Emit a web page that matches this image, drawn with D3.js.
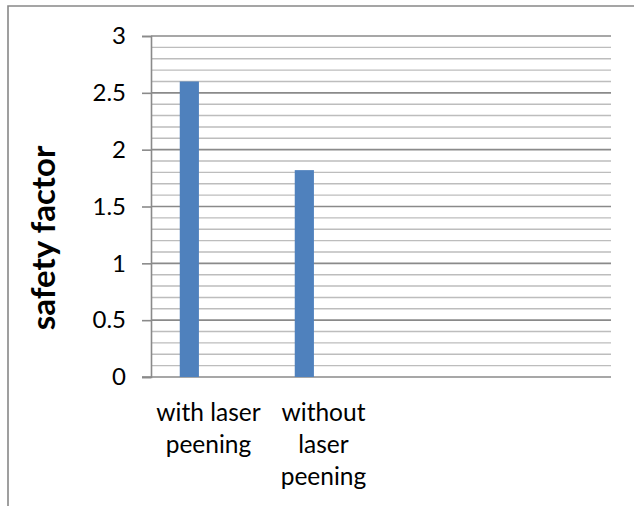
<!DOCTYPE html>
<html><head><meta charset="utf-8">
<script src="https://cdn.jsdelivr.net/npm/d3@7"></script>
<style>body{margin:0;background:#fff;}svg{display:block;}</style>
</head><body>
<svg id="c" width="634" height="506"></svg>
<script>
const categories = [["with laser", "peening"], ["without", "laser", "peening"], [], []];
const seriesSlots = ["Series1", "Series2", "Series3"];
const values = [2.6, 1.82];
const yMajorTicks = [0, 0.5, 1, 1.5, 2, 2.5, 3];
const yMinorTicks = d3.range(0, 31).map(i => i / 10);
const yTitle = "safety factor";

const svg = d3.select("#c");
const font = "Lato, 'Open Sans', sans-serif";
const L = 151, R = 611, T = 36, B = 377;

// outer chart border (only top/left visible)
svg.append("path").attr("d", "M8,510 V6 H640").attr("fill", "none")
  .attr("stroke", "#888").attr("stroke-width", 1.6);

const y = d3.scaleLinear().domain([0, 3]).range([B, T]);
const x = d3.scaleBand().domain(d3.range(categories.length)).range([L, R]);
const xs = d3.scaleBand().domain(seriesSlots).range([0, x.bandwidth()]).paddingOuter(1.5);

// minor gridlines
svg.append("g").selectAll("line").data(yMinorTicks.filter(v => Math.round(v * 10) % 5 !== 0))
  .join("line").attr("x1", L).attr("x2", R).attr("y1", d => y(d)).attr("y2", d => y(d))
  .attr("stroke", "#bdbdbd").attr("stroke-width", 1.4);
// major gridlines
svg.append("g").selectAll("line").data(yMajorTicks.filter(v => v > 0))
  .join("line").attr("x1", L).attr("x2", R).attr("y1", d => y(d)).attr("y2", d => y(d))
  .attr("stroke", "#8a8a8a").attr("stroke-width", 1.6);

// y axis
const yAxis = d3.axisLeft(y).tickValues(yMajorTicks).tickSize(9).tickPadding(16)
  .tickFormat(d => String(d));
const gy = svg.append("g").attr("transform", `translate(${L},0)`).call(yAxis);
gy.select(".domain").attr("stroke", "#8a8a8a").attr("stroke-width", 1.6);
gy.selectAll(".tick line").attr("stroke", "#8a8a8a").attr("stroke-width", 1.6);
gy.selectAll(".tick text").attr("font-family", font).attr("font-size", 24).attr("fill", "#000");

// x axis line
svg.append("line").attr("x1", L - 9).attr("x2", R).attr("y1", B).attr("y2", B)
  .attr("stroke", "#8a8a8a").attr("stroke-width", 1.6);

// bars
svg.append("g").selectAll("rect").data(values).join("rect")
  .attr("x", (d, i) => x(i) + xs(seriesSlots[0]))
  .attr("width", xs.bandwidth())
  .attr("y", d => y(d)).attr("height", d => y(0) - y(d))
  .attr("fill", "#4f81bd");

// category labels
const cg = svg.append("g").selectAll("text").data(categories).join("text")
  .attr("x", (d, i) => x(i) + x.bandwidth() / 2)
  .attr("y", 421).attr("text-anchor", "middle")
  .attr("font-family", font).attr("font-size", 24.5).attr("fill", "#000");
cg.selectAll("tspan").data(d => d).join("tspan")
  .attr("x", function () { return this.parentNode.getAttribute("x"); })
  .attr("dy", (d, i) => i === 0 ? 0 : 32).text(d => d);

// y title
svg.append("text").attr("transform", "translate(55,238) rotate(-90)")
  .attr("text-anchor", "middle").attr("font-family", font).attr("font-weight", "bold")
  .attr("font-size", 33).attr("fill", "#000").text(yTitle);
</script>
</body></html>
